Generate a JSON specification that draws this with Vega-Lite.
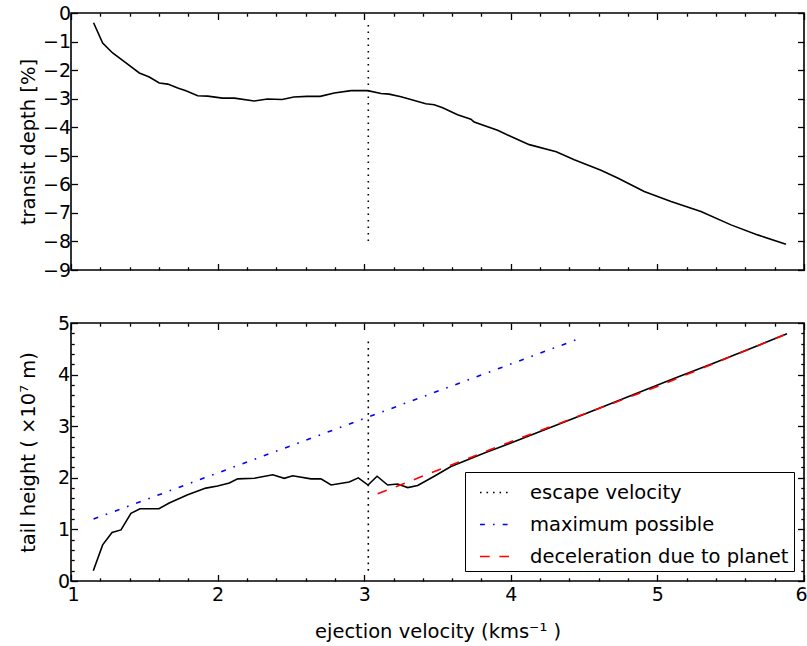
{
  "$schema": "https://vega.github.io/schema/vega-lite/v6.json",
  "background": "white",
  "padding": {"left": 17, "top": 3, "right": 0, "bottom": 0},
  "datasets": {
    "top": [
      {"v": 1.154, "d": -0.34}, {"v": 1.216, "d": -1.05}, {"v": 1.284, "d": -1.40}, {"v": 1.375, "d": -1.75},
      {"v": 1.466, "d": -2.10}, {"v": 1.534, "d": -2.24}, {"v": 1.602, "d": -2.45}, {"v": 1.66, "d": -2.49},
      {"v": 1.728, "d": -2.63}, {"v": 1.784, "d": -2.72}, {"v": 1.864, "d": -2.90}, {"v": 1.932, "d": -2.91},
      {"v": 2.034, "d": -2.98}, {"v": 2.114, "d": -2.98}, {"v": 2.25, "d": -3.08}, {"v": 2.34, "d": -3.01},
      {"v": 2.44, "d": -3.03}, {"v": 2.52, "d": -2.94}, {"v": 2.61, "d": -2.92}, {"v": 2.70, "d": -2.92},
      {"v": 2.796, "d": -2.80}, {"v": 2.91, "d": -2.72}, {"v": 3.024, "d": -2.72}, {"v": 3.115, "d": -2.82},
      {"v": 3.17, "d": -2.84}, {"v": 3.251, "d": -2.93}, {"v": 3.30, "d": -3.00}, {"v": 3.42, "d": -3.18},
      {"v": 3.478, "d": -3.21}, {"v": 3.535, "d": -3.32}, {"v": 3.637, "d": -3.56}, {"v": 3.728, "d": -3.72},
      {"v": 3.75, "d": -3.82}, {"v": 3.91, "d": -4.11}, {"v": 4.024, "d": -4.38}, {"v": 4.126, "d": -4.61},
      {"v": 4.31, "d": -4.86}, {"v": 4.433, "d": -5.14}, {"v": 4.615, "d": -5.51}, {"v": 4.729, "d": -5.78},
      {"v": 4.91, "d": -6.25}, {"v": 5.093, "d": -6.60}, {"v": 5.297, "d": -6.95}, {"v": 5.502, "d": -7.42},
      {"v": 5.684, "d": -7.77}, {"v": 5.877, "d": -8.10}
    ],
    "esc_top": [{"v": 3.028, "d": -0.42}, {"v": 3.028, "d": -8.13}],
    "bottom": [
      {"v": 1.152, "h": 0.20}, {"v": 1.216, "h": 0.70}, {"v": 1.28, "h": 0.94}, {"v": 1.341, "h": 0.99},
      {"v": 1.409, "h": 1.31}, {"v": 1.471, "h": 1.40}, {"v": 1.60, "h": 1.40}, {"v": 1.67, "h": 1.51},
      {"v": 1.796, "h": 1.67}, {"v": 1.92, "h": 1.80}, {"v": 2.0, "h": 1.84}, {"v": 2.08, "h": 1.90},
      {"v": 2.137, "h": 1.98}, {"v": 2.25, "h": 1.99}, {"v": 2.376, "h": 2.06}, {"v": 2.455, "h": 1.99},
      {"v": 2.512, "h": 2.04}, {"v": 2.637, "h": 1.98}, {"v": 2.705, "h": 1.98}, {"v": 2.774, "h": 1.86},
      {"v": 2.898, "h": 1.92}, {"v": 2.96, "h": 2.00}, {"v": 3.026, "h": 1.86}, {"v": 3.088, "h": 2.03},
      {"v": 3.16, "h": 1.86}, {"v": 3.228, "h": 1.88}, {"v": 3.297, "h": 1.81}, {"v": 3.365, "h": 1.85},
      {"v": 3.478, "h": 2.03}, {"v": 3.592, "h": 2.22}, {"v": 3.706, "h": 2.35}, {"v": 3.82, "h": 2.48},
      {"v": 3.933, "h": 2.60}, {"v": 4.2, "h": 2.895}, {"v": 4.5, "h": 3.23}, {"v": 4.8, "h": 3.57},
      {"v": 5.1, "h": 3.91}, {"v": 5.4, "h": 4.24}, {"v": 5.7, "h": 4.58}, {"v": 5.884, "h": 4.79}
    ],
    "series": [
      {"s": "escape velocity", "v": 3.028, "h": 0.2}, {"s": "escape velocity", "v": 3.028, "h": 4.72},
      {"s": "maximum possible", "v": 1.154, "h": 1.2}, {"s": "maximum possible", "v": 4.479, "h": 4.71},
      {"s": "deceleration due to planet", "v": 3.092, "h": 1.69}, {"s": "deceleration due to planet", "v": 4.0, "h": 2.70},
      {"s": "deceleration due to planet", "v": 5.0, "h": 3.77}, {"s": "deceleration due to planet", "v": 5.884, "h": 4.79}
    ]
  },
  "spacing": 53,
  "bounds": "flush",
  "resolve": {"scale": {"color": "independent", "strokeDash": "independent"}},
  "vconcat": [
    {
      "width": 733,
      "height": 257,
      "resolve": {"axis": {"x": "independent", "y": "independent"}},
      "layer": [
        {
          "data": {"name": "top"},
          "mark": {"type": "line", "color": "black", "strokeWidth": 1.6},
          "encoding": {
            "x": {"field": "v", "type": "quantitative", "scale": {"domain": [1, 6], "nice": false},
              "axis": {"orient": "bottom", "values": [1, 2, 3, 4, 5, 6], "labels": false, "title": null}},
            "y": {"field": "d", "type": "quantitative", "scale": {"domain": [-9, 0], "nice": false},
              "axis": {"orient": "left", "values": [-9, -8, -7, -6, -5, -4, -3, -2, -1, 0], "format": "d",
                "title": "transit depth [%]", "titleX": -33, "labelPadding": 7}}
          }
        },
        {
          "data": {"name": "esc_top"},
          "mark": {"type": "line", "color": "black", "strokeWidth": 1.6, "strokeDash": [1.6, 4.9]},
          "encoding": {
            "x": {"field": "v", "type": "quantitative", "scale": {"domain": [1, 6], "nice": false},
              "axis": {"orient": "top", "values": [1, 2, 3, 4, 5, 6], "labels": false, "title": null}},
            "y": {"field": "d", "type": "quantitative", "scale": {"domain": [-9, 0], "nice": false},
              "axis": {"orient": "right", "values": [-9, -8, -7, -6, -5, -4, -3, -2, -1, 0], "labels": false, "title": null}}
          }
        },
        {
          "data": {"name": "top"},
          "mark": {"type": "line", "opacity": 0},
          "encoding": {
            "x": {"field": "v", "type": "quantitative", "scale": {"domain": [1, 6], "nice": false},
              "axis": {"orient": "bottom", "values": [1.2, 1.4, 1.6, 1.8, 2.2, 2.4, 2.6, 2.8, 3.2, 3.4, 3.6, 3.8, 4.2, 4.4, 4.6, 4.8, 5.2, 5.4, 5.6, 5.8], "labels": false, "title": null, "tickSize": -3.2}},
            "y": {"field": "d", "type": "quantitative", "scale": {"domain": [-9, 0], "nice": false}, "axis": null}
          }
        },
        {
          "data": {"name": "top"},
          "mark": {"type": "line", "opacity": 0},
          "encoding": {
            "x": {"field": "v", "type": "quantitative", "scale": {"domain": [1, 6], "nice": false},
              "axis": {"orient": "top", "values": [1.2, 1.4, 1.6, 1.8, 2.2, 2.4, 2.6, 2.8, 3.2, 3.4, 3.6, 3.8, 4.2, 4.4, 4.6, 4.8, 5.2, 5.4, 5.6, 5.8], "labels": false, "title": null, "tickSize": -3.2}},
            "y": {"field": "d", "type": "quantitative", "scale": {"domain": [-9, 0], "nice": false}, "axis": null}
          }
        }
      ]
    },
    {
      "width": 733,
      "height": 258,
      "resolve": {"axis": {"x": "independent", "y": "independent"}},
      "layer": [
        {
          "data": {"name": "bottom"},
          "mark": {"type": "line", "color": "black", "strokeWidth": 1.6},
          "encoding": {
            "x": {"field": "v", "type": "quantitative", "scale": {"domain": [1, 6], "nice": false},
              "axis": {"orient": "bottom", "values": [1, 2, 3, 4, 5, 6], "format": "d", "title": "ejection velocity (kms⁻¹ )", "titlePadding": 18,
                "labelOffset": {"condition": [{"test": "datum.value == 1", "value": 2}, {"test": "datum.value == 6", "value": -3}], "value": 0}}},
            "y": {"field": "h", "type": "quantitative", "scale": {"domain": [0, 5], "nice": false},
              "axis": {"orient": "left", "values": [0, 1, 2, 3, 4, 5], "format": "d", "title": "tail height ( ×10⁷ m)", "titleX": -33, "labelPadding": 8}}
          }
        },
        {
          "data": {"name": "series"},
          "mark": {"type": "line", "strokeWidth": 1.6},
          "encoding": {
            "x": {"field": "v", "type": "quantitative", "scale": {"domain": [1, 6], "nice": false},
              "axis": {"orient": "top", "values": [1, 2, 3, 4, 5, 6], "labels": false, "title": null}},
            "y": {"field": "h", "type": "quantitative", "scale": {"domain": [0, 5], "nice": false},
              "axis": {"orient": "right", "values": [0, 1, 2, 3, 4, 5], "labels": false, "title": null}},
            "color": {"field": "s", "type": "nominal",
              "scale": {"domain": ["escape velocity", "maximum possible", "deceleration due to planet"], "range": ["black", "#0000ff", "#ff0000"]},
              "legend": {"title": null}},
            "strokeDash": {"field": "s", "type": "nominal",
              "scale": {"domain": ["escape velocity", "maximum possible", "deceleration due to planet"], "range": [[1.6, 4.9], [4.9, 8.1, 1.6, 8.1], [9.7, 9.7]]},
              "legend": {"title": null}}
          }
        },
        {
          "data": {"name": "bottom"},
          "mark": {"type": "line", "opacity": 0},
          "encoding": {
            "x": {"field": "v", "type": "quantitative", "scale": {"domain": [1, 6], "nice": false},
              "axis": {"orient": "bottom", "values": [1.2, 1.4, 1.6, 1.8, 2.2, 2.4, 2.6, 2.8, 3.2, 3.4, 3.6, 3.8, 4.2, 4.4, 4.6, 4.8, 5.2, 5.4, 5.6, 5.8], "labels": false, "title": null, "tickSize": -3.2}},
            "y": {"field": "h", "type": "quantitative", "scale": {"domain": [0, 5], "nice": false},
              "axis": {"orient": "left", "values": [0.2, 0.4, 0.6, 0.8, 1.2, 1.4, 1.6, 1.8, 2.2, 2.4, 2.6, 2.8, 3.2, 3.4, 3.6, 3.8, 4.2, 4.4, 4.6, 4.8], "labels": false, "title": null, "tickSize": -3.2}}
          }
        },
        {
          "data": {"name": "bottom"},
          "mark": {"type": "line", "opacity": 0},
          "encoding": {
            "x": {"field": "v", "type": "quantitative", "scale": {"domain": [1, 6], "nice": false},
              "axis": {"orient": "top", "values": [1.2, 1.4, 1.6, 1.8, 2.2, 2.4, 2.6, 2.8, 3.2, 3.4, 3.6, 3.8, 4.2, 4.4, 4.6, 4.8, 5.2, 5.4, 5.6, 5.8], "labels": false, "title": null, "tickSize": -3.2}},
            "y": {"field": "h", "type": "quantitative", "scale": {"domain": [0, 5], "nice": false},
              "axis": {"orient": "right", "values": [0.2, 0.4, 0.6, 0.8, 1.2, 1.4, 1.6, 1.8, 2.2, 2.4, 2.6, 2.8, 3.2, 3.4, 3.6, 3.8, 4.2, 4.4, 4.6, 4.8], "labels": false, "title": null, "tickSize": -3.2}}
          }
        }
      ]
    }
  ],
  "config": {
    "font": "DejaVu Sans",
    "view": {"stroke": "black", "strokeWidth": 1.6},
    "axis": {
      "labelFont": "DejaVu Sans", "labelFontSize": 19, "labelColor": "black",
      "titleFont": "DejaVu Sans", "titleFontSize": 19.5, "titleFontWeight": "normal", "titleColor": "black",
      "tickColor": "black", "tickWidth": 1.3, "tickSize": -6.5, "labelPadding": 11,
      "domain": false, "grid": false, "labelFlush": false, "labelOverlap": false
    },
    "legend": {
      "orient": "bottom-right", "offset": 10, "strokeColor": "black", "fillColor": "white",
      "padding": 5, "symbolOffset": 9, "symbolType": "stroke", "symbolSize": 841, "symbolStrokeWidth": 1.6,
      "labelFont": "DejaVu Sans", "labelFontSize": 19.5, "labelColor": "black", "labelLimit": 0,
      "labelOffset": 20, "rowPadding": 7, "cornerRadius": 0
    }
  }
}
